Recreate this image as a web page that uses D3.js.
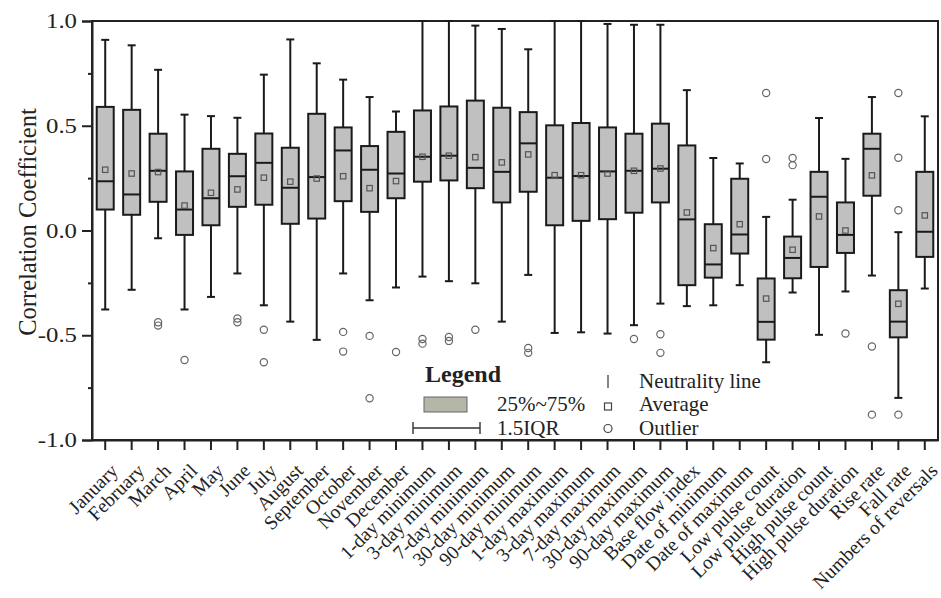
<!DOCTYPE html>
<html lang="en">
<head>
    <meta charset="UTF-8">
    <title>Correlation Coefficient box plot</title>
    <script src="https://cdn.jsdelivr.net/npm/d3@7"></script>
    <style>
        body {
            margin: 0;
            padding: 0;
            background: #ffffff;
        }
    </style>
</head>
<body>
    <svg id="chart" width="941" height="598"></svg>

    <script>
        // categories along the x axis
        const categories = [
            "January", "February", "March", "April", "May", "June", "July", "August",
            "September", "October", "November", "December",
            "1-day minimum", "3-day minimum", "7-day minimum", "30-day minimum", "90-day minimum",
            "1-day maximum", "3-day maximum", "7-day maximum", "30-day maximum", "90-day maximum",
            "Base flow index", "Date of minimum", "Date of maximum",
            "Low pulse count", "Low pulse duration", "High pulse count", "High pulse duration",
            "Rise rate", "Fall rate", "Numbers of reversals"
        ];

        // box statistics, one value per category
        const whiskerHigh = [0.91, 0.884, 0.767, 0.553, 0.546, 0.538, 0.744, 0.912, 0.798, 0.72, 0.637, 0.568,
            1.0, 1.0, 0.978, 0.962, 0.865, 1.0, 1.0, 0.986, 0.982, 0.982,
            0.67, 0.346, 0.32, 0.065, 0.147, 0.537, 0.342, 0.637, -0.008, 0.545];
        const q3 = [0.59, 0.576, 0.462, 0.282, 0.39, 0.366, 0.463, 0.395, 0.557, 0.492, 0.403, 0.471,
            0.573, 0.592, 0.62, 0.586, 0.565, 0.502, 0.513, 0.492, 0.462, 0.51,
            0.406, 0.03, 0.247, -0.229, -0.029, 0.28, 0.134, 0.462, -0.285, 0.28];
        const median = [0.235, 0.172, 0.285, 0.1, 0.154, 0.259, 0.323, 0.204, 0.255, 0.382, 0.29, 0.272,
            0.352, 0.357, 0.299, 0.28, 0.416, 0.252, 0.26, 0.282, 0.285, 0.295,
            0.053, -0.162, -0.019, -0.436, -0.131, 0.161, -0.021, 0.39, -0.435, -0.006];
        const q1 = [0.1, 0.075, 0.137, -0.021, 0.025, 0.113, 0.123, 0.032, 0.057, 0.14, 0.089, 0.154,
            0.233, 0.239, 0.202, 0.134, 0.185, 0.025, 0.046, 0.054, 0.085, 0.134,
            -0.261, -0.225, -0.11, -0.521, -0.228, -0.174, -0.107, 0.166, -0.51, -0.126];
        const whiskerLow = [-0.377, -0.283, -0.037, -0.377, -0.317, -0.205, -0.357, -0.435, -0.522, -0.205, -0.333, -0.272,
            -0.22, -0.242, -0.252, -0.435, -0.212, -0.489, -0.486, -0.492, -0.452, -0.349,
            -0.361, -0.357, -0.261, -0.629, -0.296, -0.498, -0.291, -0.215, -0.799, -0.277];
        const average = [0.29, 0.272, 0.279, 0.119, 0.18, 0.196, 0.252, 0.233, 0.248, 0.259, 0.202, 0.236,
            0.352, 0.357, 0.35, 0.325, 0.363, 0.264, 0.264, 0.272, 0.285, 0.296,
            0.086, -0.084, 0.03, -0.325, -0.092, 0.067, 0.0, 0.263, -0.35, 0.072];
        const outliers = [
            [], [], [-0.438, -0.454], [-0.618], [], [-0.42, -0.438], [-0.474, -0.629], [], [], [-0.484, -0.578],
            [-0.503, -0.801], [-0.58],
            [-0.518, -0.54], [-0.508, -0.527], [-0.474], [], [-0.561, -0.584],
            [], [], [], [-0.518], [-0.495, -0.584],
            [], [], [], [0.656, 0.341], [0.346, 0.312], [], [-0.492],
            [-0.554, -0.879], [0.656, 0.347, 0.097, -0.879], []
        ];

        const majorTicks = [-1.0, -0.5, 0.0, 0.5, 1.0];
        const minorTicks = [-0.75, -0.25, 0.25, 0.75];

        const serif = "'Liberation Serif', 'DejaVu Serif', 'Times New Roman', serif";
        const ink = "#222";

        const svg = d3.select("#chart");
        const margin = { top: 21, right: 3, bottom: 158, left: 92 };
        const width = 941 - margin.left - margin.right;
        const height = 598 - margin.top - margin.bottom;

        const x = d3.scaleBand().domain(categories).range([margin.left, margin.left + width]).padding(0);
        const y = d3.scaleLinear().domain([-1, 1]).range([margin.top + height, margin.top]);

        const boxW = 17;
        const capW = 8;

        const rows = categories.map((c, i) => ({
            name: c, hi: whiskerHigh[i], q3: q3[i], med: median[i], q1: q1[i],
            lo: whiskerLow[i], mean: average[i], out: outliers[i]
        }));

        // frame
        svg.append("rect")
            .attr("x", margin.left).attr("y", margin.top)
            .attr("width", width).attr("height", height)
            .attr("fill", "none").attr("stroke", ink).attr("stroke-width", 2);

        // y axis
        const yAxis = svg.append("g")
            .attr("transform", `translate(${margin.left},0)`)
            .call(d3.axisLeft(y).tickValues(majorTicks).tickSize(10).tickPadding(5)
                .tickFormat(d => d.toFixed(1)));
        yAxis.select(".domain").attr("stroke", ink).attr("stroke-width", 2);
        yAxis.selectAll(".tick line").attr("stroke", ink).attr("stroke-width", 2);
        yAxis.selectAll("text")
            .attr("fill", ink)
            .style("font-family", serif)
            .style("font-size", "21px")
            .each(function () {
                // the original labels are a bit wider than plain Times
                const w = this.getComputedTextLength();
                d3.select(this).attr("textLength", w * 1.18).attr("lengthAdjust", "spacingAndGlyphs");
            });

        svg.append("g")
            .attr("transform", `translate(${margin.left},0)`)
            .call(d3.axisLeft(y).tickValues(minorTicks).tickSize(4).tickFormat(""))
            .call(g => g.select(".domain").remove())
            .selectAll(".tick line").attr("stroke", ink).attr("stroke-width", 2);

        svg.append("text")
            .attr("transform", "translate(36,222) rotate(-90)")
            .attr("text-anchor", "middle")
            .attr("fill", ink)
            .style("font-family", serif)
            .style("font-size", "24.5px")
            .text("Correlation  Coefficient");

        // x axis
        const xAxis = svg.append("g")
            .attr("transform", `translate(0,${margin.top + height})`)
            .call(d3.axisBottom(x).tickSize(10).tickSizeOuter(0));
        xAxis.select(".domain").attr("stroke", ink).attr("stroke-width", 2);
        xAxis.selectAll(".tick line").attr("stroke", ink).attr("stroke-width", 2);
        xAxis.selectAll("text")
            .attr("x", 0).attr("y", 0).attr("dy", 0)
            .attr("text-anchor", "end")
            .attr("fill", ink)
            .attr("transform", "translate(14,32) rotate(-45)")
            .style("font-family", serif)
            .style("font-size", "19.5px");

        // boxes
        const box = svg.append("g").selectAll("g")
            .data(rows)
            .join("g")
            .attr("transform", d => `translate(${x(d.name) + x.bandwidth() / 2},0)`);

        box.append("line")
            .attr("y1", d => y(d.hi)).attr("y2", d => y(d.lo))
            .attr("stroke", "#1a1a1a").attr("stroke-width", 2);

        box.append("line")
            .attr("x1", -capW / 2).attr("x2", capW / 2)
            .attr("y1", d => y(d.hi)).attr("y2", d => y(d.hi))
            .attr("stroke", "#1a1a1a").attr("stroke-width", 2);

        box.append("line")
            .attr("x1", -capW / 2).attr("x2", capW / 2)
            .attr("y1", d => y(d.lo)).attr("y2", d => y(d.lo))
            .attr("stroke", "#1a1a1a").attr("stroke-width", 2);

        box.append("rect")
            .attr("x", -boxW / 2).attr("width", boxW)
            .attr("y", d => y(d.q3)).attr("height", d => y(d.q1) - y(d.q3))
            .attr("fill", "#c0c0c0").attr("stroke", "#1a1a1a").attr("stroke-width", 2);

        box.append("line")
            .attr("x1", -boxW / 2).attr("x2", boxW / 2)
            .attr("y1", d => y(d.med)).attr("y2", d => y(d.med))
            .attr("stroke", "#1a1a1a").attr("stroke-width", 2);

        box.append("rect")
            .attr("x", -2.7).attr("width", 5.4)
            .attr("y", d => y(d.mean) - 2.7).attr("height", 5.4)
            .attr("fill", "none").attr("stroke", "#555").attr("stroke-width", 1.2);

        box.selectAll("circle")
            .data(d => d.out)
            .join("circle")
            .attr("cy", d => y(d)).attr("r", 3.6)
            .attr("fill", "none").attr("stroke", "#666").attr("stroke-width", 1.2);

        // legend
        const lg = svg.append("g")
            .style("font-family", serif);
        const legendText = (tx, ty, label) => lg.append("text")
            .attr("x", tx).attr("y", ty).attr("fill", ink)
            .style("font-family", serif).style("font-size", "21px").text(label);

        lg.append("text").attr("x", 425).attr("y", 382).attr("fill", ink)
            .style("font-family", serif)
            .style("font-size", "24px").style("font-weight", "bold").text("Legend");
        lg.append("rect").attr("x", 424).attr("y", 397).attr("width", 43).attr("height", 15)
            .attr("fill", "#b4b7a7").attr("stroke", "#666").attr("stroke-width", 1);
        legendText(497, 411, "25%~75%");
        lg.append("path").attr("d", "M413,422V434M413,428H480M480,422V434")
            .attr("fill", "none").attr("stroke", "#333").attr("stroke-width", 1.4);
        legendText(497, 435, "1.5IQR");

        lg.append("line").attr("x1", 608).attr("x2", 608).attr("y1", 375).attr("y2", 388)
            .attr("stroke", "#333").attr("stroke-width", 1.2);
        legendText(639, 388, "Neutrality line");
        lg.append("rect").attr("x", 604.5).attr("y", 403).attr("width", 7).attr("height", 7)
            .attr("fill", "none").attr("stroke", "#444").attr("stroke-width", 1.2);
        legendText(639, 411, "Average");
        lg.append("circle").attr("cx", 608).attr("cy", 428.5).attr("r", 4)
            .attr("fill", "none").attr("stroke", "#444").attr("stroke-width", 1.2);
        legendText(639, 435, "Outlier");
    </script>
</body>
</html>
